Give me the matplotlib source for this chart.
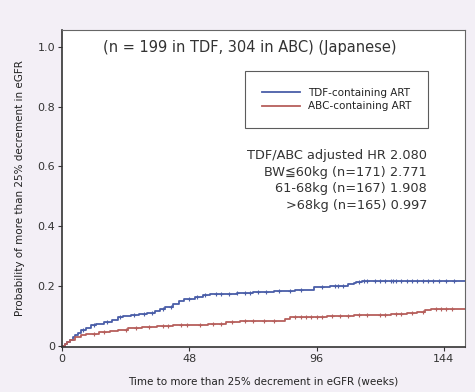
import numpy as np
import matplotlib.pyplot as plt

# cumulative probability of >25% eGFR decrement (step curves)
tdf_t = [0, 1, 2, 3, 4, 5, 6, 7, 9, 11, 13, 16, 19, 21, 23, 26, 29, 32, 35, 37,
         39, 42, 44, 46, 50, 53, 56, 66, 72, 80, 88, 95, 101, 108, 110, 111, 113, 116]
tdf_p = [0, 0.008, 0.015, 0.022, 0.03, 0.038, 0.045, 0.055, 0.062, 0.07, 0.075,
         0.08, 0.088, 0.097, 0.1, 0.104, 0.108, 0.112, 0.118, 0.125, 0.13, 0.14,
         0.152, 0.158, 0.163, 0.17, 0.175, 0.178, 0.181, 0.185, 0.188, 0.196,
         0.2, 0.207, 0.211, 0.214, 0.217, 0.219]

abc_t = [0, 1, 2, 3, 5, 7, 9, 14, 18, 21, 25, 30, 36, 42, 49, 55, 62, 67, 84, 86,
         100, 110, 118, 124, 130, 134, 137, 139]
abc_p = [0, 0.008, 0.015, 0.022, 0.03, 0.036, 0.042, 0.046, 0.05, 0.055, 0.06,
         0.064, 0.067, 0.07, 0.072, 0.075, 0.079, 0.084, 0.09, 0.098, 0.1, 0.103,
         0.105, 0.108, 0.112, 0.115, 0.12, 0.123]

# censoring marks (weeks)
tdf_cens = [8, 12, 17, 22, 27, 31, 34, 38, 41, 48, 51, 54, 58, 60, 63, 66, 69, 71,
            74, 77, 82, 86, 90, 98, 103, 104, 106, 112, 114, 115, 118, 120, 122,
            124, 125, 126, 128, 130, 132, 134, 136, 138, 140, 142, 145, 148]
abc_cens = [12, 16, 24, 28, 33, 38, 40, 45, 47, 52, 57, 60, 64, 69, 72, 76, 80,
            88, 90, 92, 94, 96, 98, 102, 105, 108, 112, 115, 120, 122, 126, 128,
            132, 136, 141, 143, 145, 147]

follow_up = 152
labels = ["TDF-containing ART", "ABC-containing ART"]
colors = ["#4a5ea8", "#b65f5c"]

title = "(n = 199 in TDF, 304 in ABC) (Japanese)"
hr_text = ("TDF/ABC adjusted HR 2.080\n"
           "BW\u226660kg (n=171) 2.771\n"
           "61-68kg (n=167) 1.908\n"
           ">68kg (n=165) 0.997")

plt.rcParams["font.family"] = ["DejaVu Sans", "Noto Sans CJK JP"]

fig = plt.figure(figsize=(4.75, 3.92), dpi=100)
fig.patch.set_facecolor("#f3eff6")
ax = fig.add_axes([0.1305, 0.1148, 0.8485, 0.8087])
ax.set_facecolor("white")

for t, p, cens, col, lab in [(tdf_t, tdf_p, tdf_cens, colors[0], labels[0]),
                             (abc_t, abc_p, abc_cens, colors[1], labels[1])]:
    t = np.array(t + [follow_up])
    p = np.array(p + [p[-1]])
    ax.step(t, p, where="post", color=col, lw=1.3, label=lab)
    cens = np.array(cens)
    idx = np.searchsorted(t, cens, side="right") - 1
    ax.plot(cens, p[idx], "+", color=col, ms=3.5, mew=0.8)

ax.set_xlim(0, follow_up)
ax.set_ylim(-0.003, 1.056)
ax.set_xticks([0, 48, 96, 144])
ax.set_yticks([0, 0.2, 0.4, 0.6, 0.8, 1.0])
ax.set_yticklabels(["0", "0.2", "0.4", "0.6", "0.8", "1.0"])
ax.tick_params(labelsize=8, colors="#333333", length=3, width=0.8, pad=2)

for side in ["left", "bottom"]:
    ax.spines[side].set_color("#333333")
    ax.spines[side].set_linewidth(1.2)
for side in ["top", "right"]:
    ax.spines[side].set_color("#666666")
    ax.spines[side].set_linewidth(0.8)

ax.set_xlabel("Time to more than 25% decrement in eGFR (weeks)", fontsize=7.5,
              color="#222222", labelpad=9)
ax.set_ylabel("Probability of more than 25% decrement in eGFR", fontsize=7.5,
              color="#222222", labelpad=9)

ax.text(0.466, 0.946, title, transform=ax.transAxes, ha="center", va="center",
        fontsize=10.5, color="#333333")
ax.text(0.906, 0.625, hr_text, transform=ax.transAxes, ha="right", va="top",
        fontsize=9.3, color="#333333", linespacing=1.38, multialignment="right")

leg = ax.legend(loc="upper right", bbox_to_anchor=(0.908, 0.871), fontsize=7.5,
                frameon=True, fancybox=False, edgecolor="#333333",
                handlelength=3.6, borderpad=1.6, borderaxespad=0,
                labelspacing=0.35)
leg.get_frame().set_linewidth(0.8)
for txt in leg.get_texts():
    txt.set_color("#222222")

fig.savefig("out.png", dpi=100, facecolor=fig.get_facecolor())
